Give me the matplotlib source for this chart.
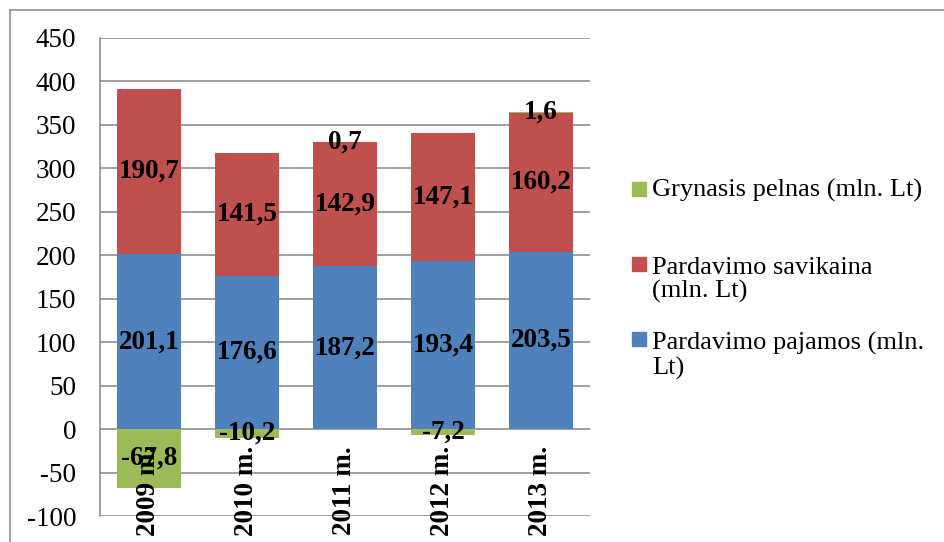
import matplotlib
matplotlib.use("Agg")
import matplotlib.pyplot as plt
from matplotlib.patches import Rectangle
from matplotlib.lines import Line2D
import numpy as np

plt.rcParams['font.family'] = ['Liberation Serif', 'DejaVu Serif']
plt.rcParams['axes.unicode_minus'] = False

years = ['2009 m.', '2010 m.', '2011 m.', '2012 m.', '2013 m.']
pajamos = [201.1, 176.6, 187.2, 193.4, 203.5]     # Pardavimo pajamos
savikaina = [190.7, 141.5, 142.9, 147.1, 160.2]   # Pardavimo savikaina
pelnas = [-67.8, -10.2, 0.7, -7.2, 1.6]           # Grynasis pelnas

series_names = ['Grynasis pelnas (mln. Lt)',
                'Pardavimo savikaina\n(mln. Lt)',
                'Pardavimo pajamos (mln.\nLt)']
c_blue, c_red, c_green = '#4F81BD', '#C0504D', '#9BBB59'

W, H = 945, 542
fig = plt.figure(figsize=(W / 100, H / 100), dpi=100)
ax = fig.add_axes([100 / W, 1 - 516 / H, 490 / W, 478 / H])

x = np.arange(len(years))
bw = 0.65
fs = 19.5

def fmt(v):
    return f"{v:.1f}".replace('.', ',')

ax.bar(x, pajamos, bw, color=c_blue, zorder=2)
ax.bar(x, savikaina, bw, bottom=pajamos, color=c_red, zorder=2)
# positive profit goes on top of the stack, negative hangs below zero
top = np.array(pajamos) + np.array(savikaina)
pel = np.array(pelnas)
pel_bottom = np.where(pel >= 0, top, 0)
ax.bar(x, pel, bw, bottom=pel_bottom, color=c_green, zorder=2)

for i in range(len(years)):
    ax.text(x[i], pajamos[i] / 2, fmt(pajamos[i]), ha='center', va='center',
            fontsize=fs, fontweight='bold', zorder=4)
    ax.text(x[i], pajamos[i] + savikaina[i] / 2, fmt(savikaina[i]), ha='center',
            va='center', fontsize=fs, fontweight='bold', zorder=4)
    ax.text(x[i], pel_bottom[i] + pel[i] / 2, fmt(pel[i]), ha='center',
            va='center', fontsize=fs, fontweight='bold', zorder=4)
    ax.annotate(years[i], (x[i], 0), xytext=(0, -17), textcoords='offset pixels',
                rotation=90, ha='center', va='top', fontsize=fs,
                fontweight='bold', annotation_clip=False, zorder=5)

ax.set_xlim(-0.5, len(years) - 0.5)
ax.set_ylim(-100, 450)
ax.set_yticks(np.arange(-100, 451, 50))
ax.set_xticks([])
ax.yaxis.grid(True, color='#868686', linewidth=1.1)
ax.set_axisbelow(True)
ax.tick_params(axis='y', length=0, pad=17, labelsize=fs)
for s in ['top', 'right', 'bottom']:
    ax.spines[s].set_visible(False)
ax.spines['left'].set_color('#868686')
ax.spines['left'].set_linewidth(1.1)

# legend drawn by hand
leg_y = [190, 280, 356]
sq_y = [189, 264, 339]
for name, col, ty, sy in zip(series_names, [c_green, c_red, c_blue], leg_y, sq_y):
    fig.patches.append(Rectangle((632 / W, 1 - (sy + 7) / H), 14 / W, 14 / H,
                                 transform=fig.transFigure, color=col))
    fig.text(652 / W, 1 - ty / H, name, ha='left', va='center', fontsize=19,
             linespacing=1.1)

# outer frame
fig.lines.append(Line2D([10 / W, 1], [1 - 10 / H, 1 - 10 / H],
                        transform=fig.transFigure, color='#868686', lw=1.1))
fig.lines.append(Line2D([10 / W, 10 / W], [1 - 10 / H, 0],
                        transform=fig.transFigure, color='#868686', lw=1.1))

fig.savefig('out.png', dpi=100)
